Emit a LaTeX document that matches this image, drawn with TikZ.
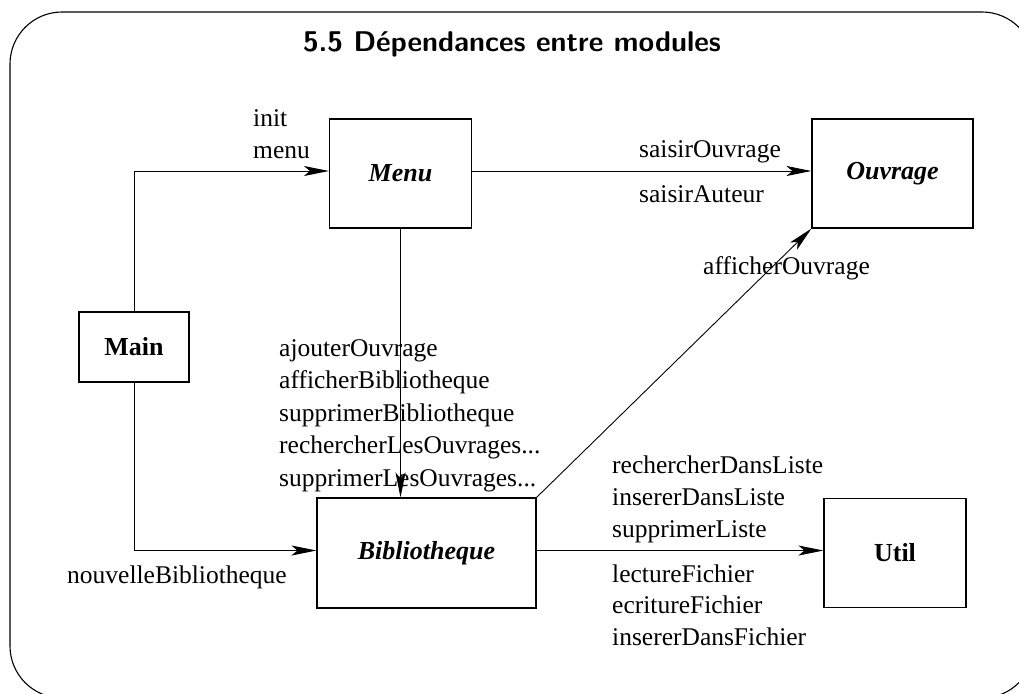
\documentclass[tikz,border=0pt]{standalone}
\usepackage{fontspec}
\setmainfont{Liberation Serif}
\usetikzlibrary{arrows.meta}
\begin{document}
\begin{tikzpicture}[x=1pt,y=-1pt,
  every node/.style={font=\fontsize{25.5}{32}\selectfont},
  box/.style={draw,line width=1.1pt,anchor=center,inner sep=0pt},
  lbl/.style={anchor=base west,inner sep=0pt},
  arr/.style={line width=0.9pt,-{Stealth[length=25pt,width=10pt,inset=6pt]}},
  ln/.style={line width=0.9pt}]
\useasboundingbox (0,0) rectangle (1019,693);
\draw[line width=1.1pt,rounded corners=52pt] (10,12) rectangle (1034,698);
\node[anchor=base,inner sep=0pt,font=\fontsize{28.5}{34}\sffamily\bfseries] (title) at (512,52) {5.5 Dépendances entre modules};
% boxes
\node[box,minimum width=142pt,minimum height=109pt,font=\fontsize{26}{32}\selectfont\bfseries\itshape] (menu) at (400.5,173.5) {Menu};
\node[box,minimum width=161pt,minimum height=109pt,font=\fontsize{26}{32}\selectfont\bfseries\itshape] (ouvrage) at (892.5,173.5) {Ouvrage};
\node[box,minimum width=110pt,minimum height=70pt,font=\fontsize{26}{32}\selectfont\bfseries] (main) at (134,347) {Main};
\node[box,minimum width=142pt,minimum height=109pt,font=\fontsize{26}{32}\selectfont\bfseries] (util) at (895,553) {Util};
\node[box,minimum width=219pt,minimum height=110pt,font=\fontsize{26}{32}\selectfont\bfseries\itshape] (biblio) at (426.5,553) {Bibliotheque};
% connectors
\draw[arr] (main.north) |- ([yshift=2.5pt]menu.west);
\draw[arr] (main.south) |- ([yshift=2.5pt]biblio.west);
\draw[arr] (menu.south) -- (menu.south |- biblio.north);
\draw[arr] ([yshift=2.5pt]menu.east) -- ([yshift=2.5pt]ouvrage.west);
\draw[arr] (biblio.north east) -- (ouvrage.south west);
\draw[arr] ([yshift=2.5pt]biblio.east) -- ([yshift=2.5pt]util.west);
% labels
\node[lbl] (l1) at (253,126) {init};
\node[lbl] (l2) at (253,158) {menu};
\node[lbl] (l3) at (639,157) {saisirOuvrage};
\node[lbl] (l4) at (639,202) {saisirAuteur};
\node[lbl] (l5) at (703,274) {afficherOuvrage};
\node[lbl] (l6) at (279,356) {ajouterOuvrage};
\node[lbl] (l7) at (279,388.5) {afficherBibliotheque};
\node[lbl] (l8) at (279,421) {supprimerBibliotheque};
\node[lbl] (l9) at (279,453.5) {rechercherLesOuvrages...};
\node[lbl] (l10) at (279,486) {supprimerLesOuvrages...};
\node[lbl] (l11) at (67,583) {nouvelleBibliotheque};
\node[lbl] (l12) at (612,473) {rechercherDansListe};
\node[lbl] (l13) at (612,505) {insererDansListe};
\node[lbl] (l14) at (612,537) {supprimerListe};
\node[lbl] (l15) at (612,582) {lectureFichier};
\node[lbl] (l16) at (612,613.5) {ecritureFichier};
\node[lbl] (l17) at (612,645) {insererDansFichier};
\end{tikzpicture}
\end{document}
